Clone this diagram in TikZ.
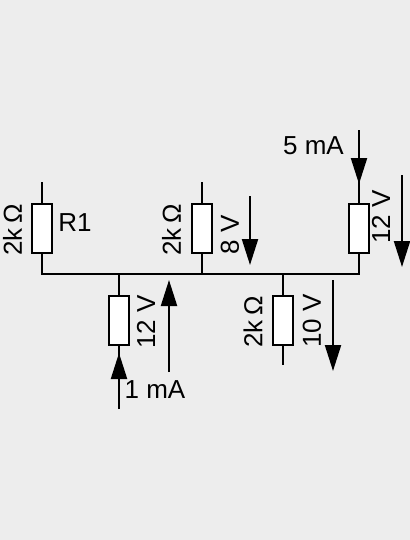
\documentclass[tikz,border=0pt]{standalone}
\usepackage{fontspec}
\setmainfont{Liberation Sans}
\usetikzlibrary{arrows.meta}
\definecolor{panelgrey}{HTML}{EDEDED}
\tikzset{
  every node/.append style={font=\fontsize{19.5}{19.5}\selectfont, inner sep=0pt},
  resistor/.style={draw, fill=white, line width=1.6pt, minimum width=14.7pt, minimum height=36.5pt},
  wire/.style={line width=1.6pt},
  current/.style={line width=1.6pt, -{Triangle[length=19.5pt, width=12pt]}}
}

\begin{document}
\begin{tikzpicture}[x=0.75pt, y=-0.75pt]
  \fill[panelgrey] (0,0) rectangle (410,540);
  \useasboundingbox (0,0) rectangle (410,540);

  % resistors
  \node[resistor] (R1) at (42,228.5) {};
  \node[resistor] (R2) at (202,228.5) {};
  \node[resistor] (R3) at (359,228.5) {};
  \node[resistor] (R4) at (119,320.5) {};
  \node[resistor] (R5) at (283,320.5) {};

  % wires
  \coordinate (busL) at (42,274);
  \coordinate (busR) at (359,274);
  \coordinate (topR1) at (42,182);
  \coordinate (topR2) at (202,182);
  \coordinate (endR5) at (283,365);
  \draw[wire] (R1.south) -- (busL) -- (busR) -- (R3.south);
  \draw[wire] (R2.south) -- (R2.south |- busL);
  \draw[wire] (R4.north) -- (R4.north |- busL);
  \draw[wire] (R5.north) -- (R5.north |- busL);
  \draw[wire] (topR1) -- (R1.north);
  \draw[wire] (topR2) -- (R2.north);
  \draw[wire] (R5.south) -- (endR5);

  % currents
  \coordinate (inR3) at (359,130);
  \coordinate (tipR3) at (359,184);
  \coordinate (inR4) at (119,409);
  \coordinate (tipR4) at (119,353);
  \coordinate (headR3) at (359,170);
  \coordinate (headR4) at (119,367);
  \draw[wire] (headR3) -- (R3.north);
  \draw[wire] (headR4) -- (R4.south);
  \draw[current] (inR3) -- (tipR3);
  \draw[current] (inR4) -- (tipR4);

  % voltages
  \coordinate (a8) at (250,196);
  \coordinate (b8) at (250,265);
  \coordinate (a12) at (402,175);
  \coordinate (b12) at (402,267);
  \coordinate (a12b) at (169,372);
  \coordinate (b12b) at (169,280);
  \coordinate (a10) at (333,280);
  \coordinate (b10) at (333,371);
  \draw[current] (a8) -- (b8);
  \draw[current] (a12) -- (b12);
  \draw[current] (a12b) -- (b12b);
  \draw[current] (a10) -- (b10);

  % labels
  \node[rotate=90] (valR1) at (12.5,230) {2k$\,$Ω};
  \node[rotate=90] (valR2) at (171.5,230) {2k$\,$Ω};
  \node[rotate=90] (valR5) at (253,322) {2k$\,$Ω};
  \node (nameR1) at (75,223) {R1};
  \node (amp5) at (313.5,146) {5 mA};
  \node (amp1) at (155,390) {1 mA};
  \node[rotate=90] (volt8) at (230,235) {8 V};
  \node[rotate=90] (volt12a) at (381,217) {12 V};
  \node[rotate=90] (volt12b) at (146,322) {12 V};
  \node[rotate=90] (volt10) at (312,321) {10 V};
\end{tikzpicture}
\end{document}
